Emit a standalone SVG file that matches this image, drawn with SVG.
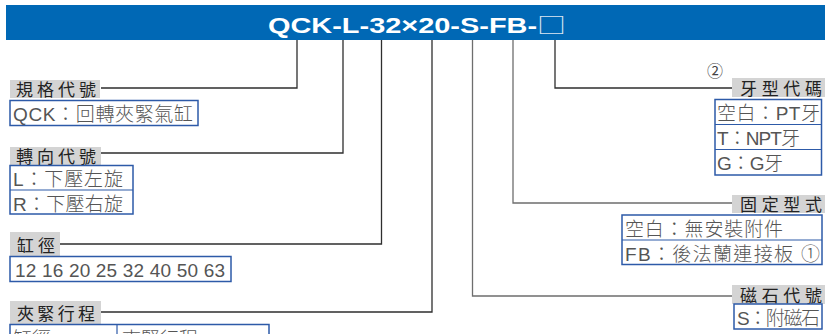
<svg xmlns="http://www.w3.org/2000/svg" width="825" height="334" viewBox="0 0 825 334">
<style>
.lbl{fill:#d4d4d4}
.lt{font-family:"Noto Sans CJK TC","Liberation Sans",sans-serif;font-size:17px;fill:#222;font-weight:normal}
.box{fill:#fff;stroke:#2d5aa8;stroke-width:1.5}
.div{stroke:#2d5aa8;stroke-width:1.2}
.bt{font-family:"Liberation Sans","Noto Sans CJK TC",sans-serif;font-size:19px;fill:#555;font-weight:300}
.c{fill:none;stroke:#2e2e2e;stroke-width:1.3}
.cg{fill:none;stroke:#6e6e6e;stroke-width:1.3}
</style>
<rect width="825" height="334" fill="#fff"/>
<g id="title">
<rect x="6" y="5" width="819" height="35" fill="#0068b5"/>
<text x="268" y="33" textLength="298" lengthAdjust="spacingAndGlyphs" font-family="Liberation Sans,sans-serif" font-size="22" font-weight="bold" fill="#fff">QCK-L-32×20-S-FB-<tspan font-weight="normal" font-family="Noto Sans CJK TC,sans-serif" fill="#dde6f2">□</tspan></text>
</g>
<g id="connectors">
<path class="c" d="M101 88H297V40"/>
<path class="c" d="M101 153H343V40"/>
<path class="c" d="M60 244H381.5V40"/>
<path class="c" d="M101 312H432V40"/>
<path class="c" d="M555 40V88H732"/>
<path class="cg" d="M513 40V203H732"/>
<path class="cg" d="M472.5 40V296H732"/>
</g>
<g id="spec">
<rect class="lbl" x="10" y="80" width="90" height="18"/>
<text class="lt" x="16" y="96" textLength="80">規格代號</text>
<rect class="box" x="10" y="100.5" width="188" height="25"/>
<text class="bt" x="13" y="121" textLength="180">QCK：回轉夾緊氣缸</text>
</g>
<g id="direction">
<rect class="lbl" x="10" y="147" width="91" height="18"/>
<text class="lt" x="16" y="163" textLength="80">轉向代號</text>
<rect class="box" x="10" y="165.5" width="123" height="48.5"/>
<line class="div" x1="10" y1="190" x2="133" y2="190"/>
<text class="bt" x="13" y="186" textLength="110">L：下壓左旋</text>
<text class="bt" x="13" y="211" textLength="110">R：下壓右旋</text>
</g>
<g id="bore">
<rect class="lbl" x="10" y="232" width="50" height="24"/>
<text class="lt" x="17" y="252" textLength="38">缸徑</text>
<rect class="box" x="10" y="256.5" width="221" height="25"/>
<text class="bt" x="15" y="277" textLength="210">12 16 20 25 32 40 50 63</text>
</g>
<g id="stroke">
<rect class="lbl" x="10" y="301" width="91" height="23"/>
<text class="lt" x="17" y="320" textLength="78">夾緊行程</text>
<rect class="box" x="10" y="324.5" width="259" height="30"/>
<line class="div" x1="117" y1="324.5" x2="117" y2="354"/>
<text class="bt" x="13" y="346">缸徑</text>
<text class="bt" x="122" y="346">夾緊行程</text>
</g>
<g id="thread">
<text x="707" y="77" font-family="Noto Sans CJK TC,sans-serif" font-size="16" fill="#444">②</text>
<rect class="lbl" x="732" y="78" width="93" height="19"/>
<text class="lt" x="740" y="95" textLength="82">牙型代碼</text>
<rect class="box" x="715" y="99.5" width="106.5" height="75.5"/>
<line class="div" x1="715" y1="124.5" x2="821.5" y2="124.5"/>
<line class="div" x1="715" y1="149.5" x2="821.5" y2="149.5"/>
<text class="bt" x="717" y="120" textLength="103">空白：PT牙</text>
<text class="bt" x="717" y="145" textLength="83">T：NPT牙</text>
<text class="bt" x="717" y="170" textLength="66">G：G牙</text>
</g>
<g id="mount">
<rect class="lbl" x="732" y="195" width="93" height="18"/>
<text class="lt" x="740" y="211" textLength="82">固定型式</text>
<rect class="box" x="622" y="215" width="200" height="49.5"/>
<line class="div" x1="622" y1="240" x2="822" y2="240"/>
<text class="bt" x="625" y="236" textLength="158">空白：無安裝附件</text>
<text class="bt" x="625" y="261" textLength="195">FB：後法蘭連接板 ①</text>
</g>
<g id="magnet">
<rect class="lbl" x="732" y="285" width="93" height="19"/>
<text class="lt" x="740" y="302" textLength="82">磁石代號</text>
<rect class="box" x="734" y="304" width="88" height="25"/>
<text class="bt" x="737" y="325" textLength="83">S：附磁石</text>
</g>
</svg>
